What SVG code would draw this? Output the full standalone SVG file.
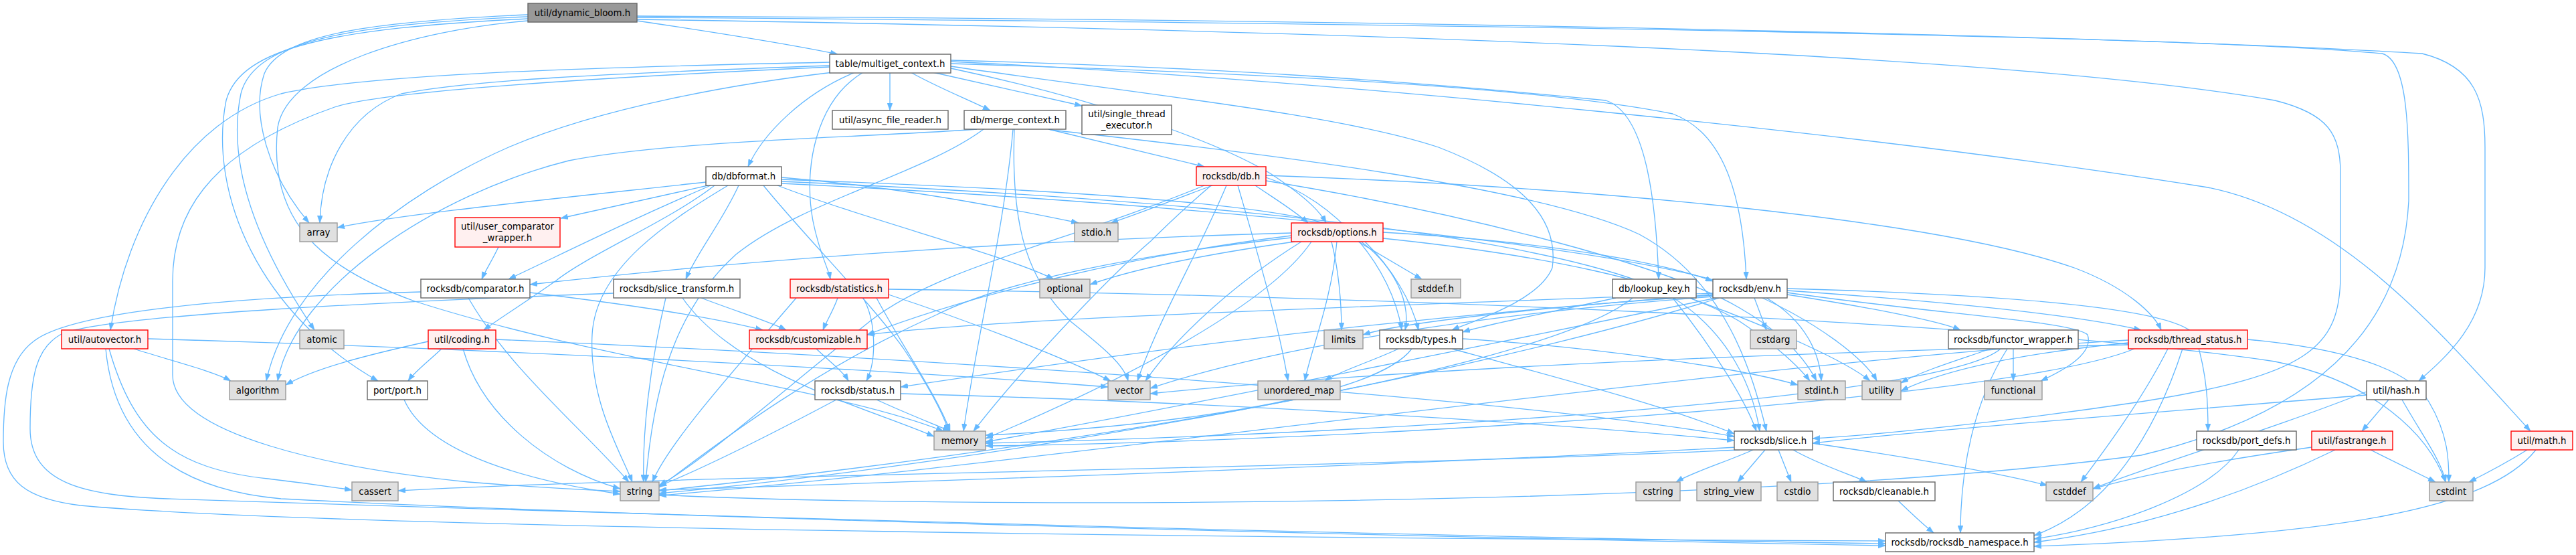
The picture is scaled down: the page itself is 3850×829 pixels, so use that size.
<svg xmlns="http://www.w3.org/2000/svg" width="3850" height="829" viewBox="0 0 3850 829">
<style>
.e{fill:none;stroke:#63b8ff;stroke-width:1.3;marker-end:url(#a)}
.n rect{fill:#ffffff;stroke:#666666;stroke-width:1.4}
.r rect{fill:#fff0f0;stroke:#ff0000;stroke-width:1.4}
.g rect{fill:#e0e0e0;stroke:#999999;stroke-width:1.4}
.m rect{fill:#999999;stroke:#666666;stroke-width:1.4}
text{font-family:"DejaVu Sans","Liberation Sans",sans-serif;font-size:13.33px;text-anchor:middle;fill:#000000}
</style>
<defs>
<marker id="a" viewBox="0 0 11 8" refX="11" refY="4" markerWidth="11" markerHeight="8" markerUnits="userSpaceOnUse" orient="auto">
<path d="M0,0 L11,4 L0,8 z" fill="#63b8ff" stroke="#63b8ff" stroke-width="0.5"/>
</marker>
</defs>
<rect x="0" y="0" width="3850" height="829" fill="#ffffff"/>
<g id="connectors">
<path class="e" d="M952,31 C1080,50 1180,66 1252,81"/>
<path class="e" d="M789,22 C560,32 420,50 395,110 C375,170 400,260 462,333"/>
<path class="e" d="M789,25 C530,36 380,60 360,140 C335,260 400,390 470,493"/>
<path class="e" d="M789,28 C500,42 360,70 338,150 C310,290 390,470 565,569"/>
<path class="e" d="M789,31 C620,45 430,100 415,190 C400,330 480,400 620,450 C900,540 1250,580 1410,644"/>
<path class="e" d="M952,26 C2200,35 3300,55 3560,80 C3600,90 3600,200 3600,300 C3590,500 3450,620 3200,680 C2600,760 1400,760 985,739"/>
<path class="e" d="M952,29 C2000,45 3000,80 3400,150 C3480,170 3498,200 3498,260 L3498,410 C3498,520 3450,560 3200,600 C3000,630 2800,650 2709,655"/>
<path class="e" d="M952,24 C2300,30 3300,60 3620,80 C3700,100 3714,150 3714,220 L3714,400 C3714,480 3660,530 3615,569"/>
<path class="e" d="M1330,108 L1330,165"/>
<path class="e" d="M1361,108 C1400,130 1450,150 1480,165"/>
<path class="e" d="M1394,108 L1617,158"/>
<path class="e" d="M1278,108 C1200,140 1140,200 1118,249"/>
<path class="e" d="M1290,108 C1220,150 1200,250 1215,330 C1225,380 1238,400 1241,417"/>
<path class="e" d="M1240,98 C900,110 700,120 600,140 C520,170 480,250 478,333"/>
<path class="e" d="M1240,93 C900,100 550,110 420,140 C280,180 190,330 165,493"/>
<path class="e" d="M1240,100 C800,120 560,140 500,160 C300,230 258,330 258,420 L258,560 C258,650 500,700 700,720 C800,728 880,732 927,734"/>
<path class="e" d="M1245,108 C1100,125 900,160 760,220 C600,290 430,420 398,569"/>
<path class="e" d="M1421,90 C1800,100 2100,120 2400,150 C2460,170 2475,300 2479,417"/>
<path class="e" d="M1421,95 C1900,110 2300,130 2500,170 C2580,200 2605,300 2610,417"/>
<path class="e" d="M1421,102 C1600,140 1800,200 1900,260 C1960,300 1975,320 1982,333"/>
<path class="e" d="M1421,99 C1700,140 2000,170 2150,220 C2280,270 2330,330 2320,400 C2300,450 2200,480 2170,493"/>
<path class="e" d="M1421,92 C2000,120 2800,200 3300,280 C3500,320 3650,500 3782,644"/>
<path class="e" d="M1460,193 C1300,205 1000,210 850,240 C650,290 440,430 415,569"/>
<path class="e" d="M1470,193 C1380,260 1200,300 1100,380 C1000,470 975,600 965,720"/>
<path class="e" d="M1514,193 C1500,350 1460,500 1440,644"/>
<path class="e" d="M1516,193 C1510,350 1540,420 1600,480 C1650,520 1680,545 1686,569"/>
<path class="e" d="M1567,193 L1800,249"/>
<path class="e" d="M1570,194 C1900,230 2300,280 2450,350 C2580,420 2620,560 2640,644"/>
<path class="e" d="M1055,272 C800,300 600,320 504,340"/>
<path class="e" d="M1058,277 C980,295 900,312 838,326"/>
<path class="e" d="M1062,277 C940,330 880,360 760,417"/>
<path class="e" d="M1068,277 C1000,330 880,380 830,420 C780,455 740,480 723,493"/>
<path class="e" d="M1088,277 C1000,330 890,400 885,500 C880,600 930,680 945,720"/>
<path class="e" d="M1104,277 C1080,330 1040,380 1025,417"/>
<path class="e" d="M1141,277 C1200,350 1300,450 1350,520 C1390,580 1410,620 1418,644"/>
<path class="e" d="M1162,277 C1300,330 1500,380 1575,417"/>
<path class="e" d="M1168,265 C1350,280 1500,310 1612,333"/>
<path class="e" d="M1168,268 C1500,280 1900,300 2000,340 C2080,380 2110,450 2100,493"/>
<path class="e" d="M1168,271 C1600,290 2200,330 2450,420 C2580,470 2620,580 2630,644"/>
<path class="e" d="M1168,274 C1700,300 2400,360 2600,430 C2720,480 2790,540 2805,569"/>
<path class="e" d="M1812,277 C1750,300 1700,320 1660,333"/>
<path class="e" d="M1810,277 C1760,320 1740,340 1720,360 C1650,420 1520,560 1455,644"/>
<path class="e" d="M1800,277 C1600,360 1400,400 1300,480 C1150,600 1050,690 985,725"/>
<path class="e" d="M1876,277 C1910,300 1935,315 1955,333"/>
<path class="e" d="M1892,265 C2000,300 2080,400 2095,493"/>
<path class="e" d="M1892,262 C2400,280 2900,330 3100,400 C3180,430 3220,470 3230,493"/>
<path class="e" d="M1833,277 C1790,380 1730,480 1700,569"/>
<path class="e" d="M1850,277 C1880,380 1910,480 1925,569"/>
<path class="e" d="M1892,270 C2200,320 2500,400 2600,460 C2670,500 2700,540 2715,569"/>
<path class="e" d="M2030,361 L2125,417"/>
<path class="e" d="M2067,356 C2300,380 2500,420 2600,480 C2660,520 2690,550 2705,569"/>
<path class="e" d="M1990,361 C2000,400 2005,450 2005,493"/>
<path class="e" d="M1960,361 C1900,450 1700,560 1473,655"/>
<path class="e" d="M1935,361 C1800,380 1700,400 1629,425"/>
<path class="e" d="M1930,355 C1700,380 1500,420 1400,470 C1200,560 1050,680 985,728"/>
<path class="e" d="M1998,361 C1990,450 1960,520 1950,569"/>
<path class="e" d="M1945,361 C1850,420 1760,500 1712,569"/>
<path class="e" d="M1930,348 C1500,360 1100,390 792,425"/>
<path class="e" d="M1930,352 C1700,380 1450,440 1296,500"/>
<path class="e" d="M2067,347 C2300,360 2480,390 2560,420"/>
<path class="e" d="M2040,361 C2080,400 2110,450 2120,493"/>
<path class="e" d="M745,369 C735,390 725,405 720,417"/>
<path class="e" d="M700,445 C760,550 870,640 940,720"/>
<path class="e" d="M792,437 C900,450 1050,470 1140,493"/>
<path class="e" d="M629,436 C300,445 100,470 50,510 C10,540 5,600 5,660 C5,720 40,745 120,755 C500,790 2000,805 2818,808"/>
<path class="e" d="M995,445 C970,550 960,650 962,720"/>
<path class="e" d="M1020,445 C1100,560 1300,610 1396,652"/>
<path class="e" d="M1048,445 C1100,465 1150,480 1175,493"/>
<path class="e" d="M917,438 C600,450 150,470 90,500 C55,520 45,560 45,640 C45,720 120,740 250,745 C700,760 2000,800 2818,812"/>
<path class="e" d="M1252,445 C1245,465 1235,480 1230,493"/>
<path class="e" d="M1290,445 C1310,480 1310,540 1295,569"/>
<path class="e" d="M1328,440 C1450,480 1580,530 1660,569"/>
<path class="e" d="M1310,445 C1350,520 1400,590 1420,644"/>
<path class="e" d="M1190,445 C1100,550 1000,660 975,720"/>
<path class="e" d="M1328,432 C2000,440 3000,480 3400,540 C3550,570 3630,650 3655,720"/>
<path class="e" d="M2415,445 C2300,470 2220,485 2186,496"/>
<path class="e" d="M2500,445 C2560,520 2610,600 2625,644"/>
<path class="e" d="M2440,445 C2300,560 1500,680 985,733"/>
<path class="e" d="M2525,445 C2650,490 2760,540 2795,569"/>
<path class="e" d="M2622,445 L2640,493"/>
<path class="e" d="M2640,445 C2700,480 2720,530 2722,569"/>
<path class="e" d="M2671,437 C2900,470 3100,480 3120,500 C3130,530 3080,555 3050,569"/>
<path class="e" d="M2671,440 C2800,460 2900,480 2930,493"/>
<path class="e" d="M2671,434 C2900,450 3100,470 3200,493"/>
<path class="e" d="M2560,440 C2300,460 2100,480 2037,500"/>
<path class="e" d="M2565,445 C2200,520 1700,620 1473,660"/>
<path class="e" d="M2570,445 C2200,560 1500,690 985,737"/>
<path class="e" d="M2560,443 C2200,470 1900,520 1719,580"/>
<path class="e" d="M2560,438 C2000,460 1500,475 1296,500"/>
<path class="e" d="M2560,441 C2000,480 1600,540 1346,578"/>
<path class="e" d="M2671,431 C3000,440 3250,460 3280,500 C3300,560 3300,610 3300,644"/>
<path class="e" d="M200,521 C260,540 320,555 345,569"/>
<path class="e" d="M163,521 C200,650 260,700 400,715 C460,722 500,728 526,732"/>
<path class="e" d="M221,506 C700,520 1300,550 1656,578"/>
<path class="e" d="M158,521 C170,650 250,730 420,745 C900,770 2000,800 2818,815"/>
<path class="e" d="M640,510 C550,530 470,550 427,575"/>
<path class="e" d="M660,521 C640,540 620,555 610,569"/>
<path class="e" d="M692,521 C720,620 820,700 927,730"/>
<path class="e" d="M741,507 C1500,540 2300,600 2592,652"/>
<path class="e" d="M1220,521 C1240,540 1260,555 1268,569"/>
<path class="e" d="M2186,506 C2400,520 2600,550 2687,575"/>
<path class="e" d="M2090,521 C2050,540 2000,555 1980,569"/>
<path class="e" d="M2110,521 C2050,600 1700,640 1473,650"/>
<path class="e" d="M2170,521 C2350,570 2500,610 2592,648"/>
<path class="e" d="M3009,521 L3009,569"/>
<path class="e" d="M2990,521 C2900,600 2000,650 1473,662"/>
<path class="e" d="M2975,521 C2920,540 2870,555 2841,572"/>
<path class="e" d="M3000,521 C2950,600 2930,700 2930,796"/>
<path class="e" d="M3240,521 C3200,600 3140,680 3110,720"/>
<path class="e" d="M3359,507 C3500,520 3600,550 3630,600 C3660,650 3660,690 3660,720"/>
<path class="e" d="M3190,521 C3000,600 2000,660 1473,666"/>
<path class="e" d="M3181,508 C2600,540 1500,700 985,740"/>
<path class="e" d="M3181,512 C3000,530 2900,555 2841,584"/>
<path class="e" d="M3181,515 C2500,530 2000,560 1719,588"/>
<path class="e" d="M3262,521 C3220,650 3150,760 3040,800"/>
<path class="e" d="M604,597 C640,680 800,720 927,738"/>
<path class="e" d="M1310,597 C1360,620 1400,635 1420,644"/>
<path class="e" d="M1250,597 C1150,650 1050,700 985,726"/>
<path class="e" d="M1346,588 C1800,600 2300,630 2592,658"/>
<path class="e" d="M3537,585 C3400,640 3200,700 3128,730"/>
<path class="e" d="M3590,597 C3620,650 3650,690 3655,720"/>
<path class="e" d="M3570,597 L3530,644"/>
<path class="e" d="M3537,590 C3300,610 2900,640 2709,662"/>
<path class="e" d="M2600,672 C2000,700 1000,710 595,733"/>
<path class="e" d="M2709,662 C2900,690 3000,710 3060,725"/>
<path class="e" d="M2658,672 L2677,720"/>
<path class="e" d="M2620,672 C2580,690 2530,705 2505,720"/>
<path class="e" d="M2595,668 C2000,700 1200,725 985,732"/>
<path class="e" d="M2638,672 L2597,720"/>
<path class="e" d="M2680,672 C2720,695 2770,710 2790,720"/>
<path class="e" d="M2837,748 C2855,765 2870,780 2890,796"/>
<path class="e" d="M3346,672 C3300,740 3150,790 3040,805"/>
<path class="e" d="M3455,668 C3300,690 3200,710 3128,730"/>
<path class="e" d="M3543,672 C3590,695 3620,710 3640,720"/>
<path class="e" d="M3490,672 C3350,740 3200,790 3040,810"/>
<path class="e" d="M3777,672 C3740,695 3710,710 3690,720"/>
<path class="e" d="M3790,672 C3720,760 3500,800 3040,816"/>
</g>
<g id="n_dynamic_bloom" class="m"><rect x="789" y="5" width="163" height="28"/><text x="870.5" y="23.8">util/dynamic_bloom.h</text></g>
<g id="n_multiget_context" class="n"><rect x="1240" y="81" width="181" height="28"/><text x="1330.5" y="99.8">table/multiget_context.h</text></g>
<g id="n_async_file_reader" class="n"><rect x="1244" y="165" width="173" height="28"/><text x="1330.5" y="183.8">util/async_file_reader.h</text></g>
<g id="n_merge_context" class="n"><rect x="1441" y="165" width="152" height="28"/><text x="1517" y="183.8">db/merge_context.h</text></g>
<g id="n_single_thread_executor" class="n"><rect x="1617" y="157" width="134" height="44"/><text x="1684" y="175">util/single_thread</text><text x="1684" y="192">_executor.h</text></g>
<g id="n_dbformat" class="n"><rect x="1055" y="249" width="113" height="28"/><text x="1111.5" y="267.8">db/dbformat.h</text></g>
<g id="n_db" class="r"><rect x="1788" y="249" width="104" height="28"/><text x="1840" y="267.8">rocksdb/db.h</text></g>
<g id="n_array" class="g"><rect x="448" y="333" width="56" height="28"/><text x="476" y="351.8">array</text></g>
<g id="n_user_comparator_wrapper" class="r"><rect x="680" y="325" width="157" height="44"/><text x="758.5" y="343">util/user_comparator</text><text x="758.5" y="360">_wrapper.h</text></g>
<g id="n_stdio" class="g"><rect x="1606" y="333" width="65" height="28"/><text x="1638.5" y="351.8">stdio.h</text></g>
<g id="n_options" class="r"><rect x="1930" y="333" width="137" height="28"/><text x="1998.5" y="351.8">rocksdb/options.h</text></g>
<g id="n_comparator" class="n"><rect x="629" y="417" width="163" height="28"/><text x="710.5" y="435.8">rocksdb/comparator.h</text></g>
<g id="n_slice_transform" class="n"><rect x="917" y="417" width="189" height="28"/><text x="1011.5" y="435.8">rocksdb/slice_transform.h</text></g>
<g id="n_statistics" class="r"><rect x="1181" y="417" width="147" height="28"/><text x="1254.5" y="435.8">rocksdb/statistics.h</text></g>
<g id="n_optional" class="g"><rect x="1554" y="417" width="75" height="28"/><text x="1591.5" y="435.8">optional</text></g>
<g id="n_stddef" class="g"><rect x="2109" y="417" width="74" height="28"/><text x="2146" y="435.8">stddef.h</text></g>
<g id="n_lookup_key" class="n"><rect x="2410" y="417" width="125" height="28"/><text x="2472.5" y="435.8">db/lookup_key.h</text></g>
<g id="n_env" class="n"><rect x="2560" y="417" width="111" height="28"/><text x="2615.5" y="435.8">rocksdb/env.h</text></g>
<g id="n_autovector" class="r"><rect x="92" y="493" width="129" height="28"/><text x="156.5" y="511.8">util/autovector.h</text></g>
<g id="n_atomic" class="g"><rect x="448" y="493" width="66" height="28"/><text x="481" y="511.8">atomic</text></g>
<g id="n_coding" class="r"><rect x="640" y="493" width="101" height="28"/><text x="690.5" y="511.8">util/coding.h</text></g>
<g id="n_customizable" class="r"><rect x="1120" y="493" width="176" height="28"/><text x="1208" y="511.8">rocksdb/customizable.h</text></g>
<g id="n_limits" class="g"><rect x="1979" y="493" width="58" height="28"/><text x="2008" y="511.8">limits</text></g>
<g id="n_types" class="n"><rect x="2062" y="493" width="124" height="28"/><text x="2124" y="511.8">rocksdb/types.h</text></g>
<g id="n_cstdarg" class="g"><rect x="2616" y="493" width="69" height="28"/><text x="2650.5" y="511.8">cstdarg</text></g>
<g id="n_functor_wrapper" class="n"><rect x="2912" y="493" width="194" height="28"/><text x="3009" y="511.8">rocksdb/functor_wrapper.h</text></g>
<g id="n_thread_status" class="r"><rect x="3181" y="493" width="178" height="28"/><text x="3270" y="511.8">rocksdb/thread_status.h</text></g>
<g id="n_algorithm" class="g"><rect x="343" y="569" width="84" height="28"/><text x="385" y="587.8">algorithm</text></g>
<g id="n_port" class="n"><rect x="549" y="569" width="90" height="28"/><text x="594" y="587.8">port/port.h</text></g>
<g id="n_status" class="n"><rect x="1218" y="569" width="128" height="28"/><text x="1282" y="587.8">rocksdb/status.h</text></g>
<g id="n_vector" class="g"><rect x="1656" y="569" width="63" height="28"/><text x="1687.5" y="587.8">vector</text></g>
<g id="n_unordered_map" class="g"><rect x="1880" y="569" width="123" height="28"/><text x="1941.5" y="587.8">unordered_map</text></g>
<g id="n_stdint" class="g"><rect x="2687" y="569" width="71" height="28"/><text x="2722.5" y="587.8">stdint.h</text></g>
<g id="n_utility" class="g"><rect x="2783" y="569" width="58" height="28"/><text x="2812" y="587.8">utility</text></g>
<g id="n_functional" class="g"><rect x="2966" y="569" width="86" height="28"/><text x="3009" y="587.8">functional</text></g>
<g id="n_hash" class="n"><rect x="3537" y="569" width="89" height="28"/><text x="3581.5" y="587.8">util/hash.h</text></g>
<g id="n_memory" class="g"><rect x="1396" y="644" width="77" height="28"/><text x="1434.5" y="662.8">memory</text></g>
<g id="n_slice" class="n"><rect x="2592" y="644" width="117" height="28"/><text x="2650.5" y="662.8">rocksdb/slice.h</text></g>
<g id="n_port_defs" class="n"><rect x="3283" y="644" width="149" height="28"/><text x="3357.5" y="662.8">rocksdb/port_defs.h</text></g>
<g id="n_fastrange" class="r"><rect x="3455" y="644" width="121" height="28"/><text x="3515.5" y="662.8">util/fastrange.h</text></g>
<g id="n_math" class="r"><rect x="3753" y="644" width="92" height="28"/><text x="3799" y="662.8">util/math.h</text></g>
<g id="n_cassert" class="g"><rect x="526" y="720" width="69" height="28"/><text x="560.5" y="738.8">cassert</text></g>
<g id="n_string" class="g"><rect x="927" y="720" width="58" height="28"/><text x="956" y="738.8">string</text></g>
<g id="n_cstring" class="g"><rect x="2445" y="720" width="66" height="28"/><text x="2478" y="738.8">cstring</text></g>
<g id="n_string_view" class="g"><rect x="2536" y="720" width="96" height="28"/><text x="2584" y="738.8">string_view</text></g>
<g id="n_cstdio" class="g"><rect x="2656" y="720" width="61" height="28"/><text x="2686.5" y="738.8">cstdio</text></g>
<g id="n_cleanable" class="n"><rect x="2740" y="720" width="152" height="28"/><text x="2816" y="738.8">rocksdb/cleanable.h</text></g>
<g id="n_cstddef" class="g"><rect x="3058" y="720" width="70" height="28"/><text x="3093" y="738.8">cstddef</text></g>
<g id="n_cstdint" class="g"><rect x="3631" y="720" width="65" height="28"/><text x="3663.5" y="738.8">cstdint</text></g>
<g id="n_rocksdb_namespace" class="n"><rect x="2818" y="796" width="222" height="28"/><text x="2929" y="814.8">rocksdb/rocksdb_namespace.h</text></g>
</svg>
